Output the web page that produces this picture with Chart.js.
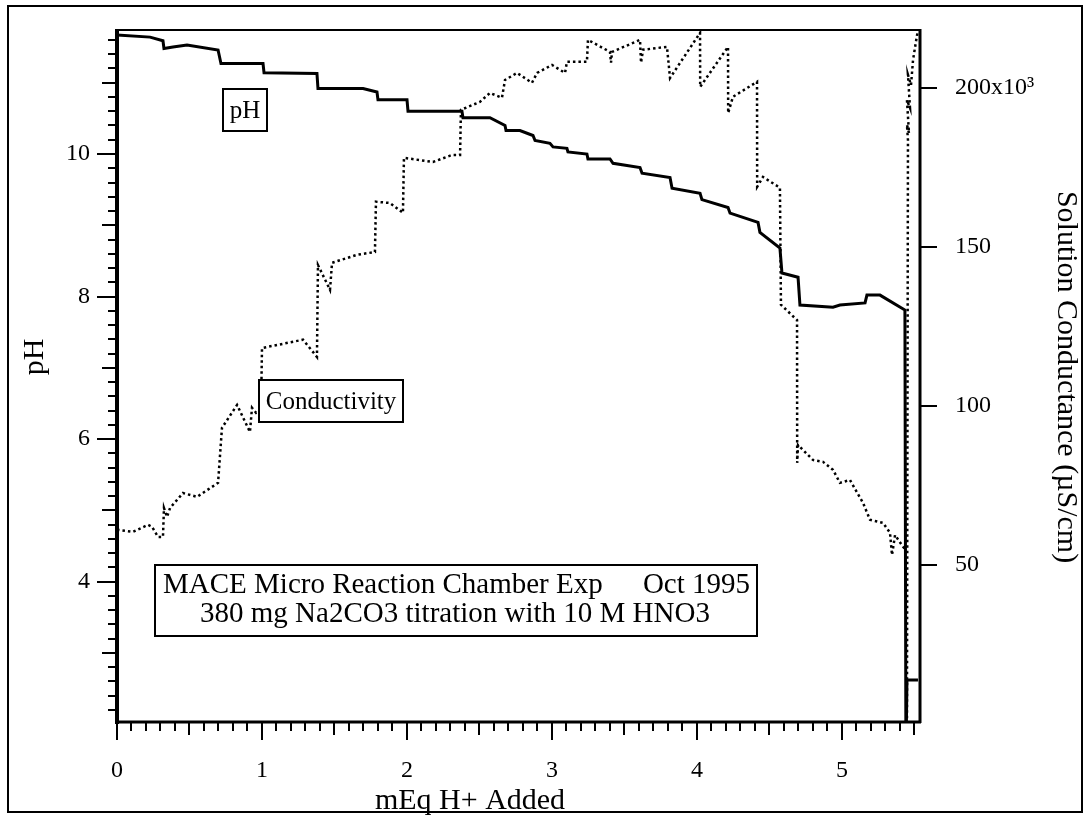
<!DOCTYPE html>
<html>
<head>
<meta charset="utf-8">
<script src="https://cdn.jsdelivr.net/npm/chart.js@4.4.1/dist/chart.umd.min.js"></script>
<style>
  html, body { margin: 0; padding: 0; background: #fff; }
  #wrap { width: 1088px; height: 816px; }
</style>
</head>
<body>
<div id="wrap"><canvas id="chart" width="1088" height="816"></canvas></div>
<script>
// pH trace (solid)
const phX = [0.000, 0.228, 0.317, 0.324, 0.386, 0.483, 0.697, 0.717, 1.007, 1.014, 1.379, 1.386,
  1.697, 1.793, 1.800, 2.000, 2.007, 2.379, 2.386, 2.572, 2.676, 2.683, 2.779, 2.869, 2.883,
  2.986, 3.007, 3.103, 3.110, 3.241, 3.248, 3.400, 3.421, 3.607, 3.621, 3.814, 3.828, 4.021,
  4.034, 4.214, 4.228, 4.421, 4.434, 4.572, 4.586, 4.697, 4.710, 4.938, 4.986, 5.159, 5.172,
  5.262, 5.434, 5.441, 5.448, 5.524];
const phY = [11.67, 11.64, 11.59, 11.48, 11.50, 11.53, 11.46, 11.27, 11.27, 11.14, 11.13, 10.92,
  10.92, 10.87, 10.76, 10.76, 10.60, 10.60, 10.51, 10.51, 10.40, 10.33, 10.33, 10.26, 10.19,
  10.15, 10.10, 10.08, 10.03, 10.00, 9.93, 9.93, 9.87, 9.81, 9.73, 9.67, 9.52, 9.45,
  9.36, 9.25, 9.17, 9.04, 8.90, 8.68, 8.33, 8.27, 7.88, 7.85, 7.88, 7.91, 8.02,
  8.02, 7.81, 1.50, 2.62, 2.62];

// Conductivity trace (dotted), uS/cm in thousands
const condX = [0.000, 0.007, 0.110, 0.214, 0.241, 0.283, 0.317, 0.324, 0.345, 0.366, 0.455, 0.552,
  0.697, 0.724, 0.828, 0.917, 0.931, 0.959, 0.993, 1.000, 1.283, 1.379, 1.386, 1.469, 1.483,
  1.655, 1.779, 1.786, 1.883, 1.972, 1.979, 2.179, 2.310, 2.366, 2.372, 2.503, 2.572, 2.655,
  2.676, 2.759, 2.862, 2.897, 3.000, 3.090, 3.103, 3.241, 3.248, 3.400, 3.407, 3.414, 3.607,
  3.614, 3.628, 3.793, 3.814, 4.021, 4.022, 4.214, 4.215, 4.248, 4.414, 4.415, 4.455, 4.572,
  4.579, 4.690, 4.691, 4.697, 4.800, 4.869, 4.938, 4.986, 5.055, 5.145, 5.193, 5.283, 5.331,
  5.345, 5.366, 5.421, 5.441, 5.448, 5.455, 5.448, 5.462, 5.448, 5.469, 5.455, 5.476, 5.490,
  5.510, 5.524];
const condY = [55.5, 61.0, 60.4, 62.6, 62.0, 58.8, 58.8, 67.9, 65.1, 67.9, 72.6, 71.4,
  75.8, 93.1, 100.3, 91.8, 99.4, 97.8, 98.7, 118.2, 120.8, 115.4, 144.3, 136.5, 145.0,
  147.5, 148.4, 164.2, 163.8, 160.7, 178.0, 176.7, 178.9, 178.9, 193.1, 195.6, 198.4, 196.9,
  202.5, 204.7, 201.6, 204.7, 207.2, 204.7, 208.2, 208.2, 215.1, 211.3, 207.9, 211.3, 215.1,
  207.9, 212.0, 212.9, 203.1, 217.3, 200.3, 212.9, 192.1, 197.2, 201.9, 168.9, 172.0, 168.6,
  131.8, 127.0, 82.1, 87.7, 83.0, 82.4, 79.9, 75.8, 76.7, 69.5, 64.2, 63.2, 60.1,
  53.1, 59.4, 55.7, 54.7, 1.3, 183.6, 188.4, 185.8, 196.2, 193.7, 204.1, 200.9, 208.8,
  214.5, 218.2];

const xTicks = [0, 1, 2, 3, 4, 5];
const phTicks = [4, 6, 8, 10];
const condTicks = [50, 100, 150, 200];
const condTickLabels = ['50', '100', '150', '200x10\u00B3'];

const SERIF = '"Liberation Serif", "DejaVu Serif", serif';

// ticks, axis lines, frame and text boxes
const decor = {
  id: 'decor',
  beforeDraw(chart) {
    const c = chart.ctx;
    c.save();
    c.fillStyle = '#fff';
    c.fillRect(0, 0, chart.width, chart.height);
    c.restore();
  },
  afterDraw(chart) {
    const c = chart.ctx;
    const a = chart.chartArea;
    const sx = chart.scales.x, sy = chart.scales.y, s2 = chart.scales.y2;
    c.save();
    c.strokeStyle = '#000';
    c.lineCap = 'butt';

    // x ticks every 0.1
    c.lineWidth = 2;
    for (let i = 0; i <= 55; i++) {
      const v = i / 10;
      const px = Math.round(sx.getPixelForValue(v));
      const len = i % 10 === 0 ? 18 : (i % 5 === 0 ? 13 : 9);
      c.beginPath(); c.moveTo(px, a.bottom); c.lineTo(px, a.bottom + len); c.stroke();
    }
    // left ticks every 0.2
    for (let i = 11; i <= 58; i++) {
      const v = i / 5;
      const py = Math.round(sy.getPixelForValue(v));
      const len = i % 10 === 0 ? 20 : (i % 5 === 0 ? 15 : 9);
      c.beginPath(); c.moveTo(a.left, py); c.lineTo(a.left - len, py); c.stroke();
    }
    // right ticks
    condTicks.forEach(v => {
      const py = Math.round(s2.getPixelForValue(v));
      c.beginPath(); c.moveTo(a.right, py); c.lineTo(a.right + 17, py); c.stroke();
    });

    // axes
    c.lineWidth = 2;
    c.beginPath(); c.moveTo(a.left, a.top); c.lineTo(a.right, a.top); c.stroke();
    c.lineWidth = 4;
    c.beginPath(); c.moveTo(a.left, a.top - 1); c.lineTo(a.left, a.bottom + 2); c.stroke();
    c.lineWidth = 3;
    c.beginPath(); c.moveTo(a.left, a.bottom); c.lineTo(a.right + 1, a.bottom); c.stroke();
    c.beginPath(); c.moveTo(a.right, a.top - 1); c.lineTo(a.right, a.bottom + 1); c.stroke();

    // outer frame
    c.lineWidth = 2;
    c.strokeRect(8, 6, 1074, 806);

    // labelled boxes
    function box(x, y, w, h) {
      c.fillStyle = '#fff';
      c.fillRect(x, y, w, h);
      c.lineWidth = 2;
      c.strokeRect(x, y, w, h);
      c.fillStyle = '#000';
    }
    c.textBaseline = 'alphabetic';

    c.font = '25px ' + SERIF;
    box(223, 89, 44, 42);
    c.textAlign = 'center';
    c.fillText('pH', 245, 118);

    box(259, 380, 144, 42);
    c.fillText('Conductivity', 331, 409);

    c.font = '29px ' + SERIF;
    box(155, 565, 602, 71);
    c.textAlign = 'left';
    c.fillText('MACE Micro Reaction Chamber Exp', 163, 593);
    c.textAlign = 'right';
    c.fillText('Oct 1995', 750, 593);
    c.textAlign = 'center';
    c.fillText('380 mg Na2CO3 titration with 10 M HNO3', 455, 622);

    // axis titles
    c.font = '30px ' + SERIF;
    c.fillText('mEq H+ Added', 470, 809);
    c.save();
    c.translate(43, 357);
    c.rotate(-Math.PI / 2);
    c.fillText('pH', 0, 0);
    c.restore();
    c.save();
    c.translate(1058, 377);
    c.rotate(Math.PI / 2);
    c.fillText('Solution Conductance (\u00B5S/cm)', 0, 0);
    c.restore();

    c.restore();
  }
};

const tickFont = { family: SERIF, size: 24 };
const noPad = s => { s.paddingTop = 0; s.paddingBottom = 0; s.paddingLeft = 0; s.paddingRight = 0; };

new Chart(document.getElementById('chart'), {
  type: 'scatter',
  data: {
    datasets: [
      {
        label: 'pH',
        data: phX.map((x, i) => ({ x, y: phY[i] })),
        yAxisID: 'y',
        showLine: true,
        borderColor: '#000',
        borderWidth: 3,
        pointRadius: 0,
        tension: 0,
        borderJoinStyle: 'miter'
      },
      {
        label: 'Conductivity',
        data: condX.map((x, i) => ({ x, y: condY[i] })),
        yAxisID: 'y2',
        showLine: true,
        borderColor: '#000',
        borderWidth: 2.5,
        borderDash: [2.5, 3],
        pointRadius: 0,
        tension: 0
      }
    ]
  },
  options: {
    responsive: false,
    devicePixelRatio: 1,
    animation: false,
    layout: { padding: { top: 30, left: 0, right: 0, bottom: 0 } },
    plugins: { legend: { display: false }, tooltip: { enabled: false } },
    scales: {
      x: {
        type: 'linear',
        position: 'bottom',
        min: 0,
        max: 5.538,
        afterBuildTicks: s => { s.ticks = xTicks.map(v => ({ value: v })); },
        afterFit: s => { s.height = 94; noPad(s); },
        grid: { display: false, drawTicks: false },
        border: { display: false },
        ticks: { font: tickFont, color: '#000', padding: 34, maxRotation: 0, autoSkip: false }
      },
      y: {
        type: 'linear',
        position: 'left',
        min: 2.03,
        max: 11.74,
        afterBuildTicks: s => { s.ticks = phTicks.map(v => ({ value: v })); },
        afterFit: s => { s.width = 117; noPad(s); },
        grid: { display: false, drawTicks: false },
        border: { display: false },
        ticks: { font: tickFont, color: '#000', padding: 27, autoSkip: false }
      },
      y2: {
        type: 'linear',
        position: 'right',
        min: 0.6,
        max: 218.2,
        afterBuildTicks: s => { s.ticks = condTicks.map(v => ({ value: v })); },
        afterFit: s => { s.width = 168; noPad(s); },
        grid: { display: false, drawTicks: false },
        border: { display: false },
        ticks: {
          font: tickFont, color: '#000', padding: 35, autoSkip: false,
          callback: v => condTickLabels[condTicks.indexOf(v)]
        }
      }
    }
  },
  plugins: [decor]
});
</script>
</body>
</html>
